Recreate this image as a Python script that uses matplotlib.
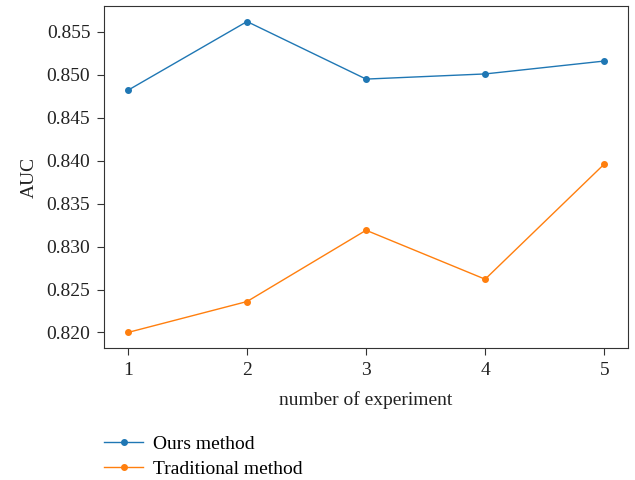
import matplotlib.pyplot as plt

plt.rcParams['font.family'] = ['Liberation Serif', 'DejaVu Serif']

experiments = [1, 2, 3, 4, 5]
ours_auc = [0.8482, 0.8562, 0.8495, 0.8501, 0.8516]
traditional_auc = [0.8200, 0.8236, 0.8319, 0.8262, 0.8396]

fig = plt.figure(figsize=(6.35, 4.8), dpi=100)
ax = fig.add_axes([0.164, 0.275, 0.825, 0.7125])

ax.plot(experiments, ours_auc, '-o', color='#1f77b4', linewidth=1, markersize=4, label='Ours method')
ax.plot(experiments, traditional_auc, '-o', color='#ff7f0e', linewidth=1, markersize=4, label='Traditional method')

ax.set_xticks(experiments)
ax.set_yticks([0.820, 0.825, 0.830, 0.835, 0.840, 0.845, 0.850, 0.855])
ax.yaxis.set_major_formatter(plt.FormatStrFormatter('%.3f'))
ax.tick_params(labelsize=14, length=5, pad=5, color='#333333', labelcolor='#222222')
for s in ax.spines.values():
    s.set_color('#333333')
ax.set_xlabel('number of experiment', fontsize=14, color='#222222', labelpad=9)
ax.set_ylabel('AUC', fontsize=14, color='#222222', labelpad=6)

fig.legend(loc='upper left', bbox_to_anchor=(0.152, 0.11), frameon=False, fontsize=14,
           handlelength=2.0, handletextpad=0.5, labelspacing=0.4, borderaxespad=0)

fig.savefig('out.png', dpi=100)
